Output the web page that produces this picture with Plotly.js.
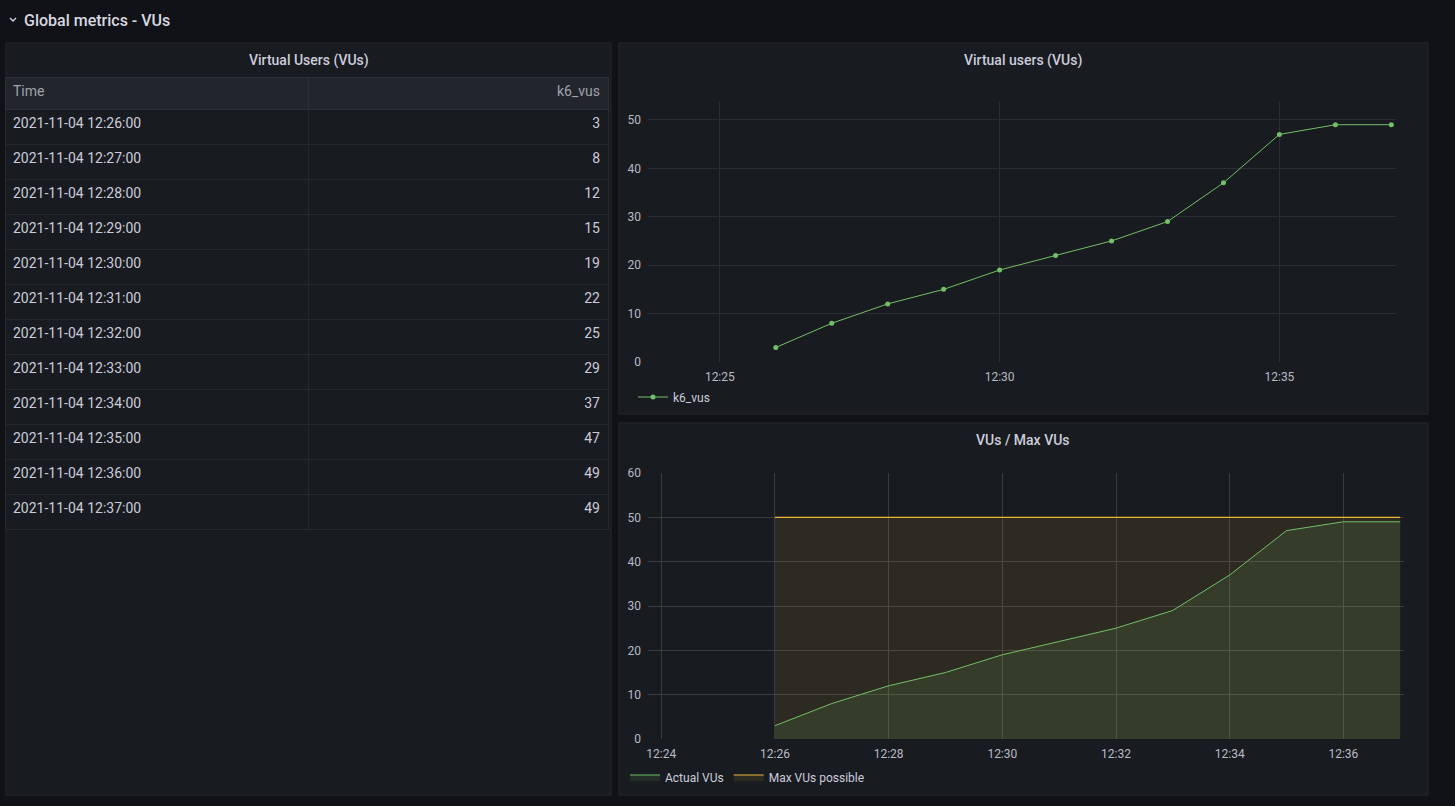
<!DOCTYPE html>
<html>
<head>
<meta charset="utf-8">
<script src="https://cdn.plot.ly/plotly-3.0.1.min.js"></script>
<style>
html,body{margin:0;padding:0;background:#111217;overflow:hidden;}
#chart{width:1455px;height:806px;}
</style>
</head>
<body>
<div id="chart"></div>
<script>
// ---- data ----
const times = ["2021-11-04 12:26:00","2021-11-04 12:27:00","2021-11-04 12:28:00","2021-11-04 12:29:00",
  "2021-11-04 12:30:00","2021-11-04 12:31:00","2021-11-04 12:32:00","2021-11-04 12:33:00",
  "2021-11-04 12:34:00","2021-11-04 12:35:00","2021-11-04 12:36:00","2021-11-04 12:37:00"];
const k6Vus = [3, 8, 12, 15, 19, 22, 25, 29, 37, 47, 49, 49];
const maxVus = [50, 50, 50, 50, 50, 50, 50, 50, 50, 50, 50, 50];
const tableHeaders = ["Time", "k6_vus"];
const dashboardTitle = "Global metrics - VUs";
const panelTitles = ["Virtual Users (VUs)", "Virtual users (VUs)", "VUs / Max VUs"];
const seriesNames = ["k6_vus", "Actual VUs", "Max VUs possible"];

// ---- layout helpers (pixel -> paper) ----
const W = 1455, H = 806;
const px = v => v / W;
const py = v => 1 - v / H;

const TXT = "#ccccdc";
const GREEN = "#73bf69";
const YELLOW = "#eab839";
const PANEL = "#181b1f";
const BORDER = "#24272c";
const FONT = "Roboto, Inter, 'Noto Sans', sans-serif";

function panelRect(x0, y0, x1, y1) {
  return {type: "rect", xref: "paper", yref: "paper", layer: "below",
    x0: px(x0), x1: px(x1), y0: py(y1), y1: py(y0),
    fillcolor: PANEL, line: {color: BORDER, width: 1}};
}

const traces = [
  {
    type: "table",
    domain: {x: [px(5), px(608)], y: [py(794), py(77)]},
    columnwidth: [303, 300],
    header: {
      values: tableHeaders,
      align: ["left", "right"],
      height: 32,
      fill: {color: "#22252b"},
      line: {color: "#2c2f34", width: 1},
      font: {family: FONT, size: 14, color: "#9fa3ad"}
    },
    cells: {
      values: [times, k6Vus],
      align: ["left", "right"],
      height: 35,
      fill: {color: PANEL},
      line: {color: "#25282d", width: 1},
      font: {family: FONT, size: 14, color: TXT}
    }
  },
  {
    type: "scatter", mode: "lines+markers", name: seriesNames[0],
    x: times, y: k6Vus, xaxis: "x", yaxis: "y", legend: "legend", showlegend: true,
    line: {color: GREEN, width: 1},
    marker: {color: GREEN, size: 5}
  },
  {
    type: "scatter", mode: "lines", name: seriesNames[2],
    x: times, y: maxVus, xaxis: "x2", yaxis: "y2", legend: "legend2", showlegend: true,
    line: {color: YELLOW, width: 1.2},
    fill: "tozeroy", fillcolor: "rgba(234,184,57,0.10)"
  },
  {
    type: "scatter", mode: "lines", name: seriesNames[1],
    x: times, y: k6Vus, xaxis: "x2", yaxis: "y2", legend: "legend2", showlegend: true,
    line: {color: GREEN, width: 1},
    fill: "tozeroy", fillcolor: "rgba(115,191,105,0.12)"
  }
];

const axisFont = {family: FONT, size: 12, color: "#b8bac4"};

const layout = {
  width: W, height: H,
  margin: {l: 0, r: 0, t: 0, b: 0},
  paper_bgcolor: "#111217",
  plot_bgcolor: "rgba(0,0,0,0)",
  font: {family: FONT, color: TXT},
  hovermode: false,
  showlegend: true,
  xaxis: {
    type: "date", domain: [px(648), px(1396)], anchor: "y",
    range: ["2021-11-04 12:23:43", "2021-11-04 12:37:05"],
    tick0: "2021-11-04 12:25:00", dtick: 300000, tickformat: "%H:%M",
    showgrid: true, gridcolor: "#2a2d32", gridwidth: 1,
    zeroline: false, showline: false, ticks: "", tickfont: axisFont, ticklabelstandoff: 6
  },
  yaxis: {
    domain: [py(362), py(101)], anchor: "x",
    range: [0, 53.9], dtick: 10, tick0: 0,
    showgrid: true, gridcolor: "#2a2d32", zeroline: false, showline: false,
    ticks: "", tickfont: axisFont, ticklabelstandoff: 6
  },
  xaxis2: {
    type: "date", domain: [px(648), px(1404)], anchor: "y2",
    range: ["2021-11-04 12:23:46", "2021-11-04 12:37:04"],
    tick0: "2021-11-04 12:24:00", dtick: 120000, tickformat: "%H:%M",
    showgrid: true, gridcolor: "#3a3c41", gridwidth: 1,
    zeroline: false, showline: false, ticks: "", tickfont: axisFont, ticklabelstandoff: 6
  },
  yaxis2: {
    domain: [py(739), py(473)], anchor: "x2",
    range: [0, 60], dtick: 10, tick0: 0,
    showgrid: true, gridcolor: "#3a3c41", zeroline: false, showline: false,
    ticks: "", tickfont: axisFont, ticklabelstandoff: 6
  },
  legend: {
    x: px(633), y: py(397), xanchor: "left", yanchor: "middle",
    orientation: "h", bgcolor: "rgba(0,0,0,0)",
    font: {family: FONT, size: 12, color: TXT}, itemwidth: 30
  },
  legend2: {
    x: px(625), y: py(777), xanchor: "left", yanchor: "middle",
    orientation: "h", bgcolor: "rgba(0,0,0,0)", traceorder: "reversed",
    font: {family: FONT, size: 12, color: TXT}, itemwidth: 30
  },
  shapes: [
    panelRect(6, 43, 611, 795),
    panelRect(619, 43, 1428, 414),
    panelRect(619, 423, 1428, 795),
    {type: "path", xref: "paper", yref: "paper",
     path: `M ${px(10)} ${py(18)} L ${px(13)} ${py(21)} L ${px(16)} ${py(18)}`,
     line: {color: TXT, width: 1.5}}
  ],
  annotations: [
    {text: dashboardTitle, xref: "paper", yref: "paper", x: px(22), y: py(20),
     xanchor: "left", yanchor: "middle", showarrow: false,
     font: {family: FONT, size: 16, color: "#d8d9e0", weight: 500}},
    {text: panelTitles[0], xref: "paper", yref: "paper", x: px(309), y: py(60),
     xanchor: "center", yanchor: "middle", showarrow: false,
     font: {family: FONT, size: 14, color: TXT, weight: 500}},
    {text: panelTitles[1], xref: "paper", yref: "paper", x: px(1023), y: py(60),
     xanchor: "center", yanchor: "middle", showarrow: false,
     font: {family: FONT, size: 14, color: TXT, weight: 500}},
    {text: panelTitles[2], xref: "paper", yref: "paper", x: px(1023), y: py(440),
     xanchor: "center", yanchor: "middle", showarrow: false,
     font: {family: FONT, size: 14, color: TXT, weight: 500}}
  ]
};

Plotly.newPlot("chart", traces, layout, {displayModeBar: false, staticPlot: true});
</script>
</body>
</html>
